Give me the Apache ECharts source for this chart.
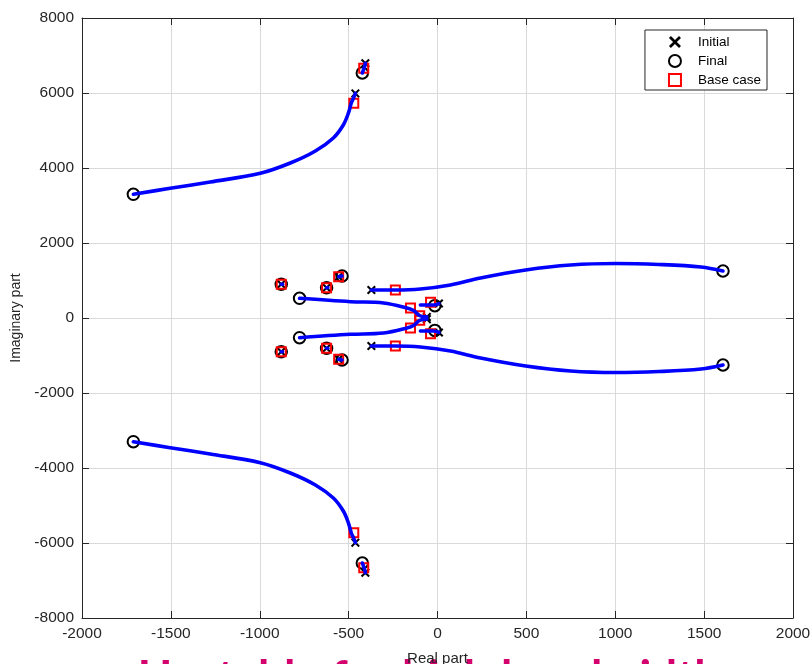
<!DOCTYPE html>
<html><head><meta charset="utf-8">
<script src="https://cdn.jsdelivr.net/npm/echarts@6/dist/echarts.min.js"></script>
<style>html,body{margin:0;padding:0;background:#fff;}#c{width:812px;height:664px;}</style>
</head><body><div id="c"></div>
<script>
// ---- data ----
const xRange = [-2000, 2000], xStep = 500;
const yRange = [-8000, 8000], yStep = 2000;
const xName = 'Real part';
const yName = 'Imaginary part';
const legendNames = ['Initial', 'Final', 'Base case'];
const footnote = 'Unstable for high bandwidth';

// blue root-locus branches
const branchTopOuter = [[-462,5990],[-473,5860],[-485,5733],[-501,5467],[-530,5147],[-586,4800],[-687,4453],[-828,4133],[-997,3859],[-1279,3627],[-1504,3459],[-1711,3299]];
const branchBotOuter = [[-462,-5990],[-473,-5860],[-485,-5733],[-501,-5467],[-530,-5147],[-586,-4800],[-687,-4453],[-828,-4133],[-997,-3859],[-1279,-3627],[-1504,-3459],[-1711,-3299]];
const branchTopHigh = [[-406,6792],[-412,6680],[-423,6533]];
const branchBotHigh = [[-406,-6792],[-412,-6680],[-423,-6533]];
const branchTopRight = [[-372,747],[-237,747],[-96,773],[73,880],[242,1067],[496,1280],[749,1413],[1003,1453],[1245,1427],[1482,1360],[1606,1253]];
const branchBotRight = [[-372,-747],[-237,-747],[-96,-773],[73,-880],[242,-1067],[496,-1280],[749,-1413],[1003,-1453],[1245,-1427],[1482,-1360],[1606,-1253]];
const branchTopInner = [[-60,30],[-99,60],[-135,200],[-172,267],[-304,400],[-490,435],[-776,525]];
const branchBotInner = [[-60,-30],[-99,-60],[-135,-200],[-172,-267],[-304,-400],[-490,-435],[-776,-525]];
const branchTopShort = [[8,385],[-20,345],[-96,348]];
const branchBotShort = [[8,-385],[-20,-345],[-96,-348]];
const branchStill = [
  [[-879,899],[-872,899]], [[-879,-899],[-872,-899]],
  [[-624,808],[-617,808]], [[-624,-808],[-617,-808]],
  [[-556,1101],[-537,1120]], [[-556,-1101],[-537,-1120]]
];

const initialPts = [[-406,6792],[-406,-6792],[-462,5990],[-462,-5990],[-372,747],[-372,-747],
  [-879,899],[-879,-899],[-624,808],[-624,-808],[-556,1101],[-556,-1101],[8,385],[8,-385],[-60,30],[-60,-30]];
const finalPts = [[-423,6533],[-423,-6533],[-1711,3299],[-1711,-3299],[1606,1253],[1606,-1253],
  [-776,525],[-776,-525],[-879,899],[-879,-899],[-624,808],[-624,-808],[-537,1120],[-537,-1120],[-15,330],[-15,-330]];
const basePts = [[-415,6658],[-415,-6658],[-471,5725],[-471,-5725],[-237,747],[-237,-747],
  [-879,899],[-879,-899],[-624,808],[-624,-808],[-556,1101],[-556,-1101],[-152,267],[-152,-267],
  [-39,420],[-39,-420],[-100,60],[-100,-60]];

// ---- chart ----
const chart = echarts.init(document.getElementById('c'));
const AX = '#262626';
const FONT = 'Liberation Sans, Arial, sans-serif';
const XSYM = 'path://M0,1.6L1.6,0L5,3.4L8.4,0L10,1.6L6.6,5L10,8.4L8.4,10L5,6.6L1.6,10L0,8.4L3.4,5Z';
const SQSYM = 'path://M0,0L10,0L10,10L0,10Z';

function lineSeries(d) {
  return {type:'line', data:d, showSymbol:false, smooth:0.35, silent:true, z:6,
    lineStyle:{color:'#0000ff', width:3.6, cap:'round', join:'round'}, animation:false};
}
const blue = [branchTopOuter, branchBotOuter, branchTopHigh, branchBotHigh, branchTopRight, branchBotRight,
  branchTopInner, branchBotInner, branchTopShort, branchBotShort].concat(branchStill).map(lineSeries);

const valAxis = (pos, range, step, main) => ({
  type:'value', position:pos, min:range[0], max:range[1], interval:step,
  axisLine:{show:true, onZero:false, lineStyle:{color:AX, width:1}},
  axisTick:{show:true, inside:true, length:7, lineStyle:{color:AX, width:1}},
  axisLabel:{show:main, color:AX, fontSize:15.5, fontFamily:FONT, margin:8,
    formatter:(v) => String(v)},
  splitLine:{show:main, lineStyle:{color:'#dadada', width:1}}
});

const xMain = valAxis('bottom', xRange, xStep, true);
Object.assign(xMain, {name:xName, nameLocation:'middle', nameGap:33,
  nameTextStyle:{color:AX, fontSize:15, fontFamily:FONT}});
const yMain = valAxis('left', yRange, yStep, true);
Object.assign(yMain, {name:yName, nameLocation:'middle', nameGap:51,
  nameTextStyle:{color:AX, fontSize:14, fontFamily:FONT}});

chart.setOption({
  animation:false,
  backgroundColor:'#ffffff',
  grid:{left:82, right:19, top:18, bottom:46, show:false, containLabel:false, outerBoundsMode:'none'},
  xAxis:[xMain, valAxis('top', xRange, xStep, false)],
  yAxis:[yMain, valAxis('right', yRange, yStep, false)],
  legend:{data:legendNames, orient:'vertical', right:45, top:30,
    backgroundColor:'#ffffff', borderColor:AX, borderWidth:1, borderRadius:0,
    padding:[5,6,3,23], itemWidth:36, itemHeight:12, itemGap:5,
    textStyle:{color:'#000', fontSize:13.5, fontFamily:FONT}},
  graphic:[{type:'text', left:138, top:655, z:0, silent:true,
    style:{text:footnote, fill:'#d4006e', font:'bold 46px Lato, "Open Sans", sans-serif'}}],
  series:[
    {name:'Initial', type:'scatter', data:initialPts, symbol:XSYM, symbolSize:9, z:3, symbolKeepAspect:true,
      itemStyle:{color:'#000', opacity:1}},
    {name:'Final', type:'scatter', data:finalPts, symbol:'circle', symbolSize:11.5, z:4, symbolKeepAspect:true,
      itemStyle:{color:'rgba(0,0,0,0)', borderColor:'#000', borderWidth:2, opacity:1}},
    {name:'Base case', type:'scatter', data:basePts, symbol:SQSYM, symbolSize:9, z:5, symbolKeepAspect:true,
      itemStyle:{color:'rgba(0,0,0,0)', borderColor:'#ff0000', borderWidth:2, opacity:1}}
  ].concat(blue)
});
</script></body></html>
